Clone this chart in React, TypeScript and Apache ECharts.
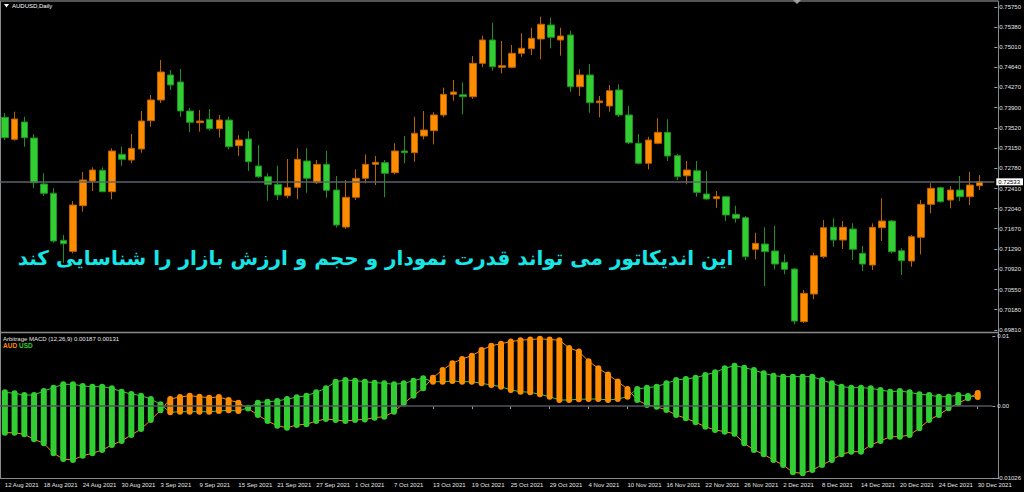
import React, { useEffect, useRef } from "react";
import * as echarts from "echarts";

const dates = [
  "12 Aug 2021","13 Aug 2021","16 Aug 2021","17 Aug 2021","18 Aug 2021","19 Aug 2021","20 Aug 2021","23 Aug 2021","24 Aug 2021","25 Aug 2021","26 Aug 2021","27 Aug 2021","30 Aug 2021","31 Aug 2021",
  "1 Sep 2021","2 Sep 2021","3 Sep 2021","6 Sep 2021","7 Sep 2021","8 Sep 2021","9 Sep 2021","10 Sep 2021","13 Sep 2021","14 Sep 2021","15 Sep 2021","16 Sep 2021","17 Sep 2021","20 Sep 2021","21 Sep 2021","22 Sep 2021","23 Sep 2021","24 Sep 2021","27 Sep 2021","28 Sep 2021","29 Sep 2021","30 Sep 2021",
  "1 Oct 2021","4 Oct 2021","5 Oct 2021","6 Oct 2021","7 Oct 2021","8 Oct 2021","11 Oct 2021","12 Oct 2021","13 Oct 2021","14 Oct 2021","15 Oct 2021","18 Oct 2021","19 Oct 2021","20 Oct 2021","21 Oct 2021","22 Oct 2021","25 Oct 2021","26 Oct 2021","27 Oct 2021","28 Oct 2021","29 Oct 2021",
  "1 Nov 2021","2 Nov 2021","3 Nov 2021","4 Nov 2021","5 Nov 2021","8 Nov 2021","9 Nov 2021","10 Nov 2021","11 Nov 2021","12 Nov 2021","15 Nov 2021","16 Nov 2021","17 Nov 2021","18 Nov 2021","19 Nov 2021","22 Nov 2021","23 Nov 2021","24 Nov 2021","25 Nov 2021","26 Nov 2021","29 Nov 2021","30 Nov 2021",
  "1 Dec 2021","2 Dec 2021","3 Dec 2021","6 Dec 2021","7 Dec 2021","8 Dec 2021","9 Dec 2021","10 Dec 2021","13 Dec 2021","14 Dec 2021","15 Dec 2021","16 Dec 2021","17 Dec 2021","20 Dec 2021","21 Dec 2021","22 Dec 2021","23 Dec 2021","24 Dec 2021","27 Dec 2021","28 Dec 2021","29 Dec 2021","30 Dec 2021"
];

const open = [
  0.73720,0.73315,0.73634,0.73339,0.72493,0.72322,0.71457,0.71254,0.72093,0.72548,
  0.72745,0.72351,0.73039,0.72934,0.73137,0.73658,0.74039,0.74499,0.74370,0.73836,
  0.73621,0.73683,0.73510,0.73670,0.73198,0.73321,0.72824,0.72627,0.72487,0.72277,
  0.72432,0.72916,0.72517,0.72855,0.72382,0.71701,0.72248,0.72598,0.72855,0.72885,
  0.72701,0.73100,0.73069,0.73376,0.73474,0.73763,0.74143,0.74136,0.74099,0.74714,
  0.75143,0.74640,0.74640,0.74898,0.74983,0.75161,0.75419,0.75143,0.75235,0.74283,
  0.74499,0.73989,0.73928,0.74223,0.73763,0.73242,0.72874,0.73242,0.73444,0.73014,
  0.72645,0.72737,0.72309,0.72222,0.72259,0.71935,0.71873,0.71291,0.71389,0.71260,
  0.71052,0.70928,0.69959,0.70468,0.71155,0.71696,0.71462,0.71665,0.71217,0.71002,
  0.71689,0.71812,0.71265,0.71076,0.71512,0.72119,0.72425,0.72198,0.72382,0.72259,
  0.72461
];
const close = [
  0.73345,0.73689,0.73345,0.72517,0.72322,0.71444,0.71394,0.72106,0.72566,0.72750,
  0.72351,0.73100,0.72947,0.73150,0.73652,0.74039,0.74554,0.74315,0.73836,0.73628,
  0.73652,0.73510,0.73670,0.73179,0.73302,0.72903,0.72627,0.72487,0.72290,0.72425,
  0.72947,0.72598,0.72855,0.72377,0.71738,0.72248,0.72598,0.72855,0.72892,0.72690,
  0.73100,0.73069,0.73426,0.73486,0.73763,0.74143,0.74186,0.74099,0.74714,0.75143,
  0.74651,0.74670,0.74898,0.74990,0.75174,0.75432,0.75192,0.75216,0.74283,0.74499,
  0.73989,0.74020,0.74210,0.73763,0.73253,0.72874,0.73302,0.73444,0.73008,0.72627,
  0.72750,0.72340,0.72217,0.72259,0.71922,0.71861,0.71155,0.71401,0.71247,0.71020,
  0.70923,0.69971,0.70481,0.71173,0.71689,0.71462,0.71696,0.71291,0.71020,0.71696,
  0.71812,0.71247,0.71081,0.71523,0.72119,0.72414,0.72167,0.72382,0.72259,0.72474,
  0.72533
];
const low = [
  0.73302,0.73290,0.73179,0.72414,0.72272,0.71412,0.71044,0.71217,0.71983,0.72364,
  0.72345,0.72211,0.72829,0.72874,0.73069,0.73547,0.73983,0.74223,0.73731,0.73444,
  0.73455,0.73474,0.73352,0.73131,0.73008,0.72732,0.72603,0.72185,0.72198,0.72230,
  0.72211,0.72333,0.72493,0.72241,0.71689,0.71665,0.72198,0.72506,0.72474,0.72248,
  0.72671,0.72874,0.72903,0.73315,0.73223,0.73720,0.74026,0.73775,0.74062,0.74640,
  0.74578,0.74530,0.74622,0.74835,0.74867,0.74788,0.74990,0.74854,0.74191,0.74112,
  0.73805,0.73720,0.73823,0.73726,0.73228,0.72855,0.72763,0.73223,0.72916,0.72566,
  0.72487,0.72259,0.72205,0.72057,0.71812,0.71781,0.71094,0.71107,0.70616,0.70923,
  0.70831,0.69911,0.69935,0.70371,0.71125,0.71339,0.71297,0.71094,0.70892,0.70910,
  0.71444,0.71217,0.70818,0.70970,0.71199,0.71954,0.72149,0.72046,0.72180,0.72106,
  0.72382
];
const high = [
  0.73799,0.73823,0.73731,0.73413,0.72690,0.72414,0.71554,0.72180,0.72714,0.72800,
  0.72800,0.73150,0.73179,0.73413,0.73836,0.74131,0.74775,0.74591,0.74609,0.73891,
  0.73854,0.73873,0.73763,0.73731,0.73389,0.73468,0.73210,0.72690,0.72829,0.72953,
  0.73150,0.73150,0.72934,0.73100,0.72640,0.72566,0.72763,0.73039,0.73008,0.72934,
  0.73242,0.73376,0.73731,0.73836,0.73812,0.74265,0.74407,0.74364,0.74848,0.75222,
  0.75461,0.75124,0.75051,0.75266,0.75369,0.75572,0.75553,0.75369,0.75314,0.74604,
  0.74701,0.74112,0.74315,0.74327,0.73928,0.73413,0.73363,0.73702,0.73683,0.73045,
  0.72916,0.72916,0.72732,0.72364,0.72272,0.72093,0.71904,0.71596,0.71696,0.71720,
  0.71199,0.70941,0.70542,0.71228,0.71830,0.71861,0.71812,0.71769,0.71352,0.71769,
  0.72230,0.71830,0.71309,0.71554,0.72198,0.72506,0.72443,0.72456,0.72640,0.72719,
  0.72658
];

const priceTickLabels = [
  "0.75750","0.75380","0.75010","0.74640","0.74270","0.73900","0.73520","0.73150","0.72780",
  "0.72410","0.72040","0.71670","0.71290","0.70920","0.70550","0.70180","0.69810"
];
const lastPrice = 0.72533;
const priceMin = 0.6981;
const priceMax = 0.7575;

const audLine = [
  -0.0038,-0.0038,-0.00403,-0.00474,-0.00531,-0.00673,-0.00755,-0.00769,-0.00708,-0.00673,
  -0.00627,-0.00555,-0.00498,-0.00412,-0.00327,-0.00198,-0.0006,0.00101,0.0013,0.00148,
  0.00134,0.0012,0.0013,0.00087,0.00049,-0.00035,-0.00127,-0.00213,-0.0028,-0.00308,
  -0.0027,-0.0026,-0.00213,-0.00184,-0.00198,-0.00213,-0.00198,-0.0019,-0.00165,-0.00151,
  -0.0008,0.0004,0.00148,0.00254,0.00405,0.00515,0.00611,0.00672,0.00719,0.008,
  0.0086,0.0089,0.0092,0.0094,0.0095,0.0096,0.0095,0.0094,0.0083,0.0078,
  0.0064,0.0054,0.0045,0.0035,0.00244,0.00087,0.00016,-0.00009,-0.00056,-0.00127,
  -0.00174,-0.00231,-0.00294,-0.00341,-0.00365,-0.00394,-0.00531,-0.00626,-0.00688,-0.00769,
  -0.0084,-0.00945,-0.00959,-0.00912,-0.0084,-0.00769,-0.00688,-0.00651,-0.00651,-0.00555,
  -0.00498,-0.00437,-0.00437,-0.00412,-0.00317,-0.00198,-0.00127,-0.00031,0.0004,0.00111,
  0.00187
];
const usdLine = [
  0.00197,0.00182,0.00158,0.00158,0.00215,0.00263,0.00311,0.00311,0.00287,0.00277,
  0.00277,0.00254,0.00206,0.00173,0.00148,0.00101,0.00025,-0.00089,-0.0008,-0.0008,
  -0.0008,-0.0008,-0.0007,-0.0006,-0.0007,-0.00025,0.00049,0.00063,0.00073,0.00101,
  0.00126,0.00148,0.00197,0.00254,0.00348,0.00372,0.00363,0.00348,0.00334,0.00325,
  0.00311,0.00325,0.00363,0.00397,0.00348,0.00348,0.00358,0.00348,0.00348,0.00325,
  0.00301,0.00277,0.0023,0.00206,0.00197,0.00168,0.00134,0.00087,0.00087,0.00097,
  0.00101,0.00101,0.00087,0.00101,0.00134,0.00244,0.00263,0.00277,0.00325,0.00372,
  0.00387,0.00405,0.00444,0.00482,0.00539,0.00577,0.00548,0.00515,0.00468,0.00434,
  0.0042,0.0042,0.0042,0.0042,0.00372,0.00325,0.00277,0.00263,0.00263,0.00254,
  0.0023,0.00206,0.00215,0.00197,0.00168,0.00158,0.00134,0.00134,0.00158,0.00144,
  0.00131
];
const macdTickValues = [0.01, 0, -0.01026];
const macdTickLabels = ["0.01", "0.00", "-0.01026"];
const macdMin = -0.01026;
const macdMax = 0.01;

const ORANGE = "#FF8C00";
const GREEN = "#32CD32";
const AXIS_TEXT = "#e6e6e6";
const SMALL_FONT = "Liberation Sans";

export default function App() {
  const ref = useRef<HTMLDivElement>(null);

  useEffect(() => {
    const chart = echarts.init(ref.current as HTMLDivElement, null, { renderer: "svg" });
    const cats = [...dates, ""];
    const labelEvery = (i: number) => i % 4 === 0 && i < dates.length;
    const candleData = dates.map((_, i) => [open[i], close[i], low[i], high[i]]);
    const barData = dates.map((_, i) => [i, audLine[i], usdLine[i]]);
    const priceTickValues = priceTickLabels.map(Number);

    chart.setOption({
      animation: false,
      backgroundColor: "#000000",
      grid: [
        { left: -3.91, right: 26, top: 7, height: 322.8 },
        { left: -3.91, right: 26, top: 336, height: 142 }
      ],
      xAxis: [
        {
          type: "category", gridIndex: 0, data: cats,
          axisLine: { show: false }, axisTick: { show: false },
          axisLabel: { show: false }, splitLine: { show: false }
        },
        {
          type: "category", gridIndex: 1, data: cats,
          axisLine: { show: false },
          axisTick: { show: true, alignWithLabel: true, interval: (i: number) => labelEvery(i), length: 3, lineStyle: { color: "#a0a0a0" } },
          axisLabel: {
            interval: (i: number) => labelEvery(i), align: "left", color: AXIS_TEXT,
            fontSize: 6, fontFamily: SMALL_FONT, margin: 4
          },
          splitLine: { show: false }
        }
      ],
      yAxis: [
        {
          type: "value", gridIndex: 0, position: "right", min: priceMin, max: priceMax,
          axisLine: { show: false }, splitLine: { show: false },
          axisTick: { show: true, customValues: priceTickValues, length: 3, lineStyle: { color: "#a0a0a0" } },
          axisLabel: {
            customValues: priceTickValues, formatter: (v: number) => v.toFixed(5),
            color: AXIS_TEXT, fontSize: 6, fontFamily: SMALL_FONT, margin: 5
          }
        },
        {
          type: "value", gridIndex: 1, position: "right", min: macdMin, max: macdMax,
          axisLine: { show: false }, splitLine: { show: false },
          axisTick: { show: true, customValues: macdTickValues, length: 3, lineStyle: { color: "#a0a0a0" } },
          axisLabel: {
            customValues: macdTickValues,
            formatter: (v: number) => {
              let best = 0;
              macdTickValues.forEach((t, k) => { if (Math.abs(t - v) < Math.abs(macdTickValues[best] - v)) best = k; });
              return macdTickLabels[best];
            },
            color: AXIS_TEXT, fontSize: 6, fontFamily: SMALL_FONT, margin: 5
          }
        }
      ],
      series: [
        {
          type: "line", xAxisIndex: 0, yAxisIndex: 0, data: [[0, lastPrice]], showSymbol: false,
          lineStyle: { width: 0 }, z: 1,
          markLine: {
            silent: true, symbol: ["none", "none"], precision: 5,
            data: [{ yAxis: lastPrice }],
            lineStyle: { color: "#5c636b", width: 1.5, type: "solid" },
            label: {
              position: "end", formatter: lastPrice.toFixed(5), backgroundColor: "#ffffff",
              color: "#000000", fontSize: 6, fontFamily: SMALL_FONT, padding: [1, 3, 0, 2], distance: 2
            }
          }
        },
        {
          type: "candlestick", xAxisIndex: 0, yAxisIndex: 0, data: candleData, barWidth: 7, z: 3,
          itemStyle: { color: ORANGE, color0: GREEN, borderColor: "#B86200", borderColor0: "#1F8F1F", borderWidth: 1 }
        },
        {
          type: "line", xAxisIndex: 1, yAxisIndex: 1, data: audLine, showSymbol: false,
          lineStyle: { color: ORANGE, width: 1 }, itemStyle: { color: ORANGE }, z: 2,
          markLine: {
            silent: true, symbol: ["none", "none"], precision: 5, data: [{ yAxis: 0 }],
            lineStyle: { color: "#50565c", width: 1.5, type: "solid" }, label: { show: false }
          }
        },
        {
          type: "line", xAxisIndex: 1, yAxisIndex: 1, data: usdLine, showSymbol: false,
          lineStyle: { color: GREEN, width: 1 }, itemStyle: { color: GREEN }, z: 2
        },
        {
          type: "custom", xAxisIndex: 1, yAxisIndex: 1, data: barData, z: 3,
          encode: { x: 0, y: [1, 2] },
          renderItem: (_params: any, api: any) => {
            const i = api.value(0);
            const a = api.value(1);
            const u = api.value(2);
            const p1 = api.coord([i, a]);
            const p2 = api.coord([i, u]);
            return {
              type: "line",
              shape: { x1: p1[0], y1: p1[1], x2: p2[0], y2: p2[1] },
              style: { stroke: u > a ? GREEN : ORANGE, lineWidth: 6, lineCap: "round" }
            };
          }
        }
      ],
      graphic: [
        { type: "line", shape: { x1: 0, y1: 1, x2: 998.5, y2: 1 }, style: { stroke: "#707070", lineWidth: 1.5 } },
        { type: "line", shape: { x1: 0, y1: 332.5, x2: 998.5, y2: 332.5 }, style: { stroke: "#8a8a8a", lineWidth: 1.5 } },
        { type: "line", shape: { x1: 0, y1: 478.5, x2: 998.5, y2: 478.5 }, style: { stroke: "#8a8a8a", lineWidth: 1 } },
        { type: "line", shape: { x1: 998.5, y1: 1, x2: 998.5, y2: 478.5 }, style: { stroke: "#8a8a8a", lineWidth: 1 } },
        { type: "line", shape: { x1: 0.5, y1: 1, x2: 0.5, y2: 478.5 }, style: { stroke: "#8a8a8a", lineWidth: 1 } },
        { type: "polygon", shape: { points: [[793, 0], [801, 0], [797, 4]] }, style: { fill: "#a0a0a0" } },
        { type: "polygon", shape: { points: [[4, 4], [9, 4], [6.5, 7.5]] }, style: { fill: "#ffffff" } },
        {
          type: "text", x: 12, y: 6,
          style: { text: "AUDUSD,Daily", fill: "#ffffff", fontSize: 6, fontFamily: SMALL_FONT, align: "left", verticalAlign: "middle" }
        },
        {
          type: "text", x: 3, y: 339,
          style: { text: "Arbitrage MACD (12,26,9) 0.00187 0.00131", fill: "#e6e6e6", fontSize: 6, fontFamily: SMALL_FONT, align: "left", verticalAlign: "middle" }
        },
        {
          type: "text", x: 3, y: 345.5,
          style: { text: "AUD", fill: ORANGE, fontSize: 6.5, fontWeight: "bold", fontFamily: SMALL_FONT, align: "left", verticalAlign: "middle" }
        },
        {
          type: "text", x: 19, y: 345.5,
          style: { text: "USD", fill: GREEN, fontSize: 6.5, fontWeight: "bold", fontFamily: SMALL_FONT, align: "left", verticalAlign: "middle" }
        },
        {
          type: "text", x: 375.5, y: 258, z: 100,
          style: {
            text: "این اندیکاتور می تواند قدرت نمودار و حجم و ارزش بازار را شناسایی کند",
            fill: "#17E6E6", fontSize: 20, fontWeight: "bold", fontFamily: "DejaVu Sans",
            align: "center", verticalAlign: "middle"
          }
        }
      ]
    });

    return () => chart.dispose();
  }, []);

  return (
    <div
      ref={ref}
      style={{ position: "fixed", left: 0, top: 0, width: 1024, height: 492, background: "#000" }}
    />
  );
}
